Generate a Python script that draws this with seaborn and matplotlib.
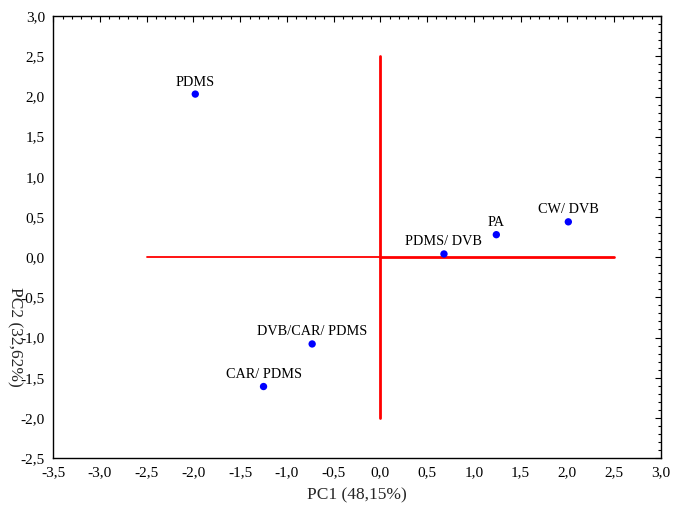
import matplotlib
matplotlib.use("Agg")
import matplotlib.pyplot as plt
import seaborn as sns
import pandas as pd
from matplotlib.ticker import MultipleLocator, FuncFormatter

fibers = ["PDMS", "PDMS/ DVB", "PA", "CW/ DVB", "DVB/CAR/ PDMS", "CAR/ PDMS"]
pc1 = [-1.98, 0.68, 1.24, 2.01, -0.73, -1.25]
pc2 = [2.03, 0.04, 0.28, 0.44, -1.08, -1.61]

xlabel = "PC1 (48,15%)"
ylabel = "PC2 (32,62%)"

df = pd.DataFrame({"PC1": pc1, "PC2": pc2, "fiber": fibers})

sns.set_style("white")
plt.rcParams["font.family"] = ["Liberation Serif", "DejaVu Serif"]

fig = plt.figure(figsize=(6.73, 5.05), dpi=100)
ax = fig.add_axes([0.079, 0.093, 0.903, 0.875])

# reference lines
ax.plot([-2.5, 0], [0, 0], color="#ff0000", lw=1.3, zorder=1)
ax.plot([0, 2.5], [0, 0], color="#ff0000", lw=2.0, zorder=1)
ax.plot([0, 0], [-2.0, 2.5], color="#ff0000", lw=2.0, zorder=1)

sns.scatterplot(data=df, x="PC1", y="PC2", ax=ax, color="#0000ff", s=28,
                edgecolor="none", zorder=3)

for x, y, t in zip(pc1, pc2, fibers):
    ax.annotate(t, (x, y), xytext=(0, 4), textcoords="offset points",
                ha="center", va="bottom", fontsize=10.3, color="black")

ax.set_xlim(-3.5, 3.0)
ax.set_ylim(-2.5, 3.0)
ax.xaxis.set_major_locator(MultipleLocator(0.5))
ax.yaxis.set_major_locator(MultipleLocator(0.5))
ax.xaxis.set_minor_locator(MultipleLocator(0.1))
ax.yaxis.set_minor_locator(MultipleLocator(0.1))
fmt = FuncFormatter(lambda v, p: f"{v:.1f}".replace(".", ",").replace("\u2212", "-"))
ax.xaxis.set_major_formatter(fmt)
ax.yaxis.set_major_formatter(fmt)
ax.tick_params(which="both", direction="in", top=True, right=True,
               colors="black", labelsize=11, width=0.8)
ax.tick_params(which="major", length=4, pad=6)
ax.tick_params(which="minor", length=2)

for s in ax.spines.values():
    s.set_color("black")
    s.set_linewidth(1.0)

ax.set_xlabel(xlabel, fontsize=12.5, labelpad=6)
ax.set_ylabel(ylabel, fontsize=12.5, rotation=270, va="center")
ax.yaxis.set_label_coords(-0.064, 0.275)

fig.savefig("out.png", dpi=100)
